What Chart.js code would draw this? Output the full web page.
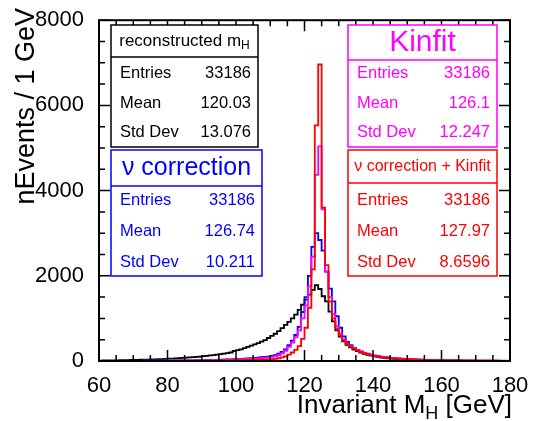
<!DOCTYPE html>
<html>
<head>
<meta charset="utf-8">
<script src="https://cdn.jsdelivr.net/npm/chart.js@4.4.1/dist/chart.umd.min.js"></script>
<style>
html,body{margin:0;padding:0;background:#fff;}
#wrap{width:533px;height:421px;}
</style>
</head>
<body>
<div id="wrap"><canvas id="c" width="533" height="421"></canvas></div>
<script>
// ---- Data (1 GeV bins, lower edges starting at 60 GeV) ----
const binStart = 60;
const binWidth = 1;
const xTicks = [60, 80, 100, 120, 140, 160, 180];
const yTicks = [0, 2000, 4000, 6000, 8000];

const reconstructed = [
  10,11,12,13,14,15,17,18,19,21,
  24,26,28,30,32,34,37,40,43,46,
  50,54,58,62,67,72,77,83,90,97,
  105,113,122,131,140,150,160,172,185,200,
  235,255,275,300,330,360,390,420,455,490,
  540,590,640,700,770,850,920,1000,1090,1200,
  1320,1440,1560,1670,1780,1690,1520,1400,1160,930,
  720,570,460,380,320,270,230,195,165,145,
  125,110,95,82,72,62,55,48,42,37,
  33,29,26,23,20,18,16,14,13,12,
  11,10,9,9,8,8,7,7,6,6,
  6,5,5,5,4,4,4,4,3,3
];
const nuCorrection = [
  2,2,2,3,3,3,3,4,4,4,
  5,5,5,6,6,7,7,8,8,9,
  10,10,11,12,13,14,15,16,17,18,
  20,21,23,24,26,28,30,32,35,38,
  41,45,49,54,60,66,73,80,88,97,
  105,120,140,170,215,270,370,480,610,800,
  1150,1500,2000,2680,3000,2840,2590,2100,1700,1400,
  1050,780,580,450,370,310,260,220,190,160,
  140,122,108,96,86,77,69,62,56,51,
  46,42,38,35,32,29,27,25,23,21,
  19,18,16,15,14,13,12,11,10,10,
  9,8,8,7,7,6,6,5,5,5
];
const kinfit = [
  2,2,2,2,3,3,3,3,4,4,
  4,5,5,5,6,6,7,7,8,8,
  9,9,10,11,12,12,13,14,15,16,
  17,19,20,22,23,25,27,29,31,34,
  36,39,42,46,50,54,58,63,68,74,
  80,95,115,140,180,240,330,430,560,720,
  1000,1300,1750,2450,4370,5040,3560,2100,1500,1100,
  820,640,500,410,350,300,260,225,195,170,
  150,132,117,104,93,83,74,66,59,53,
  48,44,40,36,33,30,28,26,24,22,
  20,19,17,16,15,14,13,12,11,11,
  10,9,9,8,8,7,7,6,6,6
];
const nuCorrKinfit = [
  1,1,1,1,1,1,1,2,2,2,
  2,2,2,2,3,3,3,3,3,4,
  4,4,5,5,5,6,6,7,7,8,
  8,9,10,10,11,12,13,14,15,17,
  18,19,21,22,24,26,28,30,32,34,
  37,42,52,65,85,110,150,200,260,350,
  520,780,1250,2150,5530,6960,3600,2250,1400,1000,
  760,600,480,400,340,290,250,215,185,160,
  140,122,107,95,85,76,68,61,55,50,
  45,41,37,34,31,28,26,24,22,20,
  19,17,16,15,14,13,12,11,10,10,
  9,8,8,7,7,6,6,6,5,5
];

// ---- Statistics boxes text ----
const boxTitles = ['reconstructed m', 'ν correction', 'Kinfit', 'ν correction + Kinfit'];
const boxTitleSubs = ['H', '', '', ''];
const statEntries = ['33186', '33186', '33186', '33186'];
const statMeans = ['120.03', '126.74', '126.1', '127.97'];
const statStdDevs = ['13.076', '10.211', '12.247', '8.6596'];
const statLabels = ['Entries', 'Mean', 'Std Dev'];
const seriesColors = ['#000000', '#0000ff', '#ff00ff', '#ff0000'];

const FONT = '"Liberation Sans", Arial, Helvetica, sans-serif';

function toPoints(vals) {
  const pts = vals.map((v, i) => ({ x: binStart + i * binWidth, y: v }));
  pts.push({ x: binStart + vals.length * binWidth, y: vals[vals.length - 1] });
  return pts;
}

function ds(vals, color, order) {
  return {
    data: toPoints(vals),
    borderColor: color,
    borderWidth: 1.8,
    pointRadius: 0,
    stepped: 'after',
    fill: false,
    tension: 0,
    order: order
  };
}

// box geometry (drawing layout)
const boxes = [
  { x1: 111, x2: 258, y1: 25, yh: 57, y2: 147, tf: 17, ty: 41, rows: [73, 103, 132] },
  { x1: 111, x2: 262, y1: 150, yh: 186, y2: 276, tf: 25, ty: 168, rows: [200, 231, 262] },
  { x1: 348, x2: 497, y1: 25, yh: 60, y2: 147, tf: 30, ty: 43, rows: [73, 103, 132] },
  { x1: 348, x2: 497, y1: 150, yh: 183, y2: 276, tf: 16, ty: 167, rows: [200, 231, 262] }
];

const rootStyle = {
  id: 'rootStyle',
  afterDatasetsDraw(chart) {
    const ctx = chart.ctx;
    const a = chart.chartArea;
    const xs = chart.scales.x, ys = chart.scales.y;
    ctx.save();
    ctx.strokeStyle = '#000';
    ctx.lineWidth = 1.5;
    ctx.beginPath();
    for (let v = xs.min; v <= xs.max + 1e-9; v += 5) {
      const px = xs.getPixelForValue(v);
      const len = (v % 20 === 0) ? 11 : 6;
      ctx.moveTo(px, a.bottom); ctx.lineTo(px, a.bottom - len);
      ctx.moveTo(px, a.top); ctx.lineTo(px, a.top + len);
    }
    for (let v = ys.min; v <= ys.max + 1e-9; v += 500) {
      const py = ys.getPixelForValue(v);
      const len = (v % 2000 === 0) ? 11 : 6;
      ctx.moveTo(a.left, py); ctx.lineTo(a.left + len, py);
      ctx.moveTo(a.right, py); ctx.lineTo(a.right - len, py);
    }
    ctx.stroke();
    ctx.lineWidth = 2;
    ctx.strokeRect(a.left, a.top, a.right - a.left, a.bottom - a.top);
    ctx.restore();
  },
  afterDraw(chart) {
    const ctx = chart.ctx;
    ctx.save();
    boxes.forEach((b, i) => {
      const col = seriesColors[i];
      ctx.fillStyle = '#fff';
      ctx.fillRect(b.x1, b.y1, b.x2 - b.x1, b.y2 - b.y1);
      ctx.strokeStyle = col;
      ctx.lineWidth = 1.5;
      ctx.strokeRect(b.x1, b.y1, b.x2 - b.x1, b.y2 - b.y1);
      ctx.beginPath();
      ctx.moveTo(b.x1, b.yh); ctx.lineTo(b.x2, b.yh);
      ctx.stroke();
      ctx.fillStyle = col;
      ctx.textBaseline = 'middle';
      ctx.font = b.tf + 'px ' + FONT;
      const tw = ctx.measureText(boxTitles[i]).width;
      let sw = 0;
      const sf = Math.round(b.tf * 0.7);
      if (boxTitleSubs[i]) {
        ctx.font = sf + 'px ' + FONT;
        sw = ctx.measureText(boxTitleSubs[i]).width;
      }
      const cx = (b.x1 + b.x2) / 2;
      const sx = cx - (tw + sw) / 2;
      ctx.font = b.tf + 'px ' + FONT;
      ctx.textAlign = 'left';
      ctx.fillText(boxTitles[i], sx, b.ty);
      if (boxTitleSubs[i]) {
        ctx.font = sf + 'px ' + FONT;
        ctx.fillText(boxTitleSubs[i], sx + tw, b.ty + b.tf * 0.3);
      }
      const vals = [statEntries[i], statMeans[i], statStdDevs[i]];
      ctx.font = '16.5px ' + FONT;
      b.rows.forEach((ry, r) => {
        ctx.textAlign = 'left';
        ctx.fillText(statLabels[r], b.x1 + 9, ry);
        ctx.textAlign = 'right';
        ctx.fillText(vals[r], b.x2 - 7, ry);
      });
    });
    ctx.fillStyle = '#000';
    ctx.textBaseline = 'alphabetic';
    const tf = 26;
    const main1 = 'Invariant M', sub = 'H', main2 = ' [GeV]';
    ctx.font = tf + 'px ' + FONT;
    const w1 = ctx.measureText(main1).width, w3 = ctx.measureText(main2).width;
    ctx.font = Math.round(tf * 0.7) + 'px ' + FONT;
    const w2 = ctx.measureText(sub).width;
    const endX = 512, baseY = 413;
    let x0 = endX - (w1 + w2 + w3);
    ctx.textAlign = 'left';
    ctx.font = tf + 'px ' + FONT;
    ctx.fillText(main1, x0, baseY);
    ctx.font = Math.round(tf * 0.7) + 'px ' + FONT;
    ctx.fillText(sub, x0 + w1, baseY + 6);
    ctx.font = tf + 'px ' + FONT;
    ctx.fillText(main2, x0 + w1 + w2, baseY);
    ctx.translate(34, 8);
    ctx.rotate(-Math.PI / 2);
    ctx.textAlign = 'right';
    ctx.font = '27px ' + FONT;
    ctx.fillText('nEvents / 1 GeV', 0, 0);
    ctx.restore();
  }
};

new Chart(document.getElementById('c'), {
  type: 'line',
  data: {
    datasets: [
      ds(nuCorrKinfit, seriesColors[3], 0),
      ds(kinfit, seriesColors[2], 1),
      ds(nuCorrection, seriesColors[1], 2),
      ds(reconstructed, seriesColors[0], 3)
    ]
  },
  options: {
    responsive: false,
    animation: false,
    layout: { padding: { left: 0, right: 23, top: 15, bottom: 0 } },
    plugins: { legend: { display: false }, tooltip: { enabled: false }, title: { display: false } },
    scales: {
      x: {
        type: 'linear', min: 60, max: 180,
        afterFit(s) { s.height = 60; },
        afterBuildTicks(s) { s.ticks = xTicks.map(v => ({ value: v })); },
        grid: { display: false },
        border: { display: false },
        ticks: { color: '#000', font: { family: FONT, size: 22 }, padding: 4, maxRotation: 0, autoSkip: false, callback: v => String(v) }
      },
      y: {
        type: 'linear', min: 0, max: 8000,
        afterFit(s) { s.width = 99; },
        afterBuildTicks(s) { s.ticks = yTicks.map(v => ({ value: v })); },
        grid: { display: false },
        border: { display: false },
        ticks: { color: '#000', font: { family: FONT, size: 22 }, padding: 7, callback: v => String(v) }
      }
    }
  },
  plugins: [rootStyle]
});
</script>
</body>
</html>
